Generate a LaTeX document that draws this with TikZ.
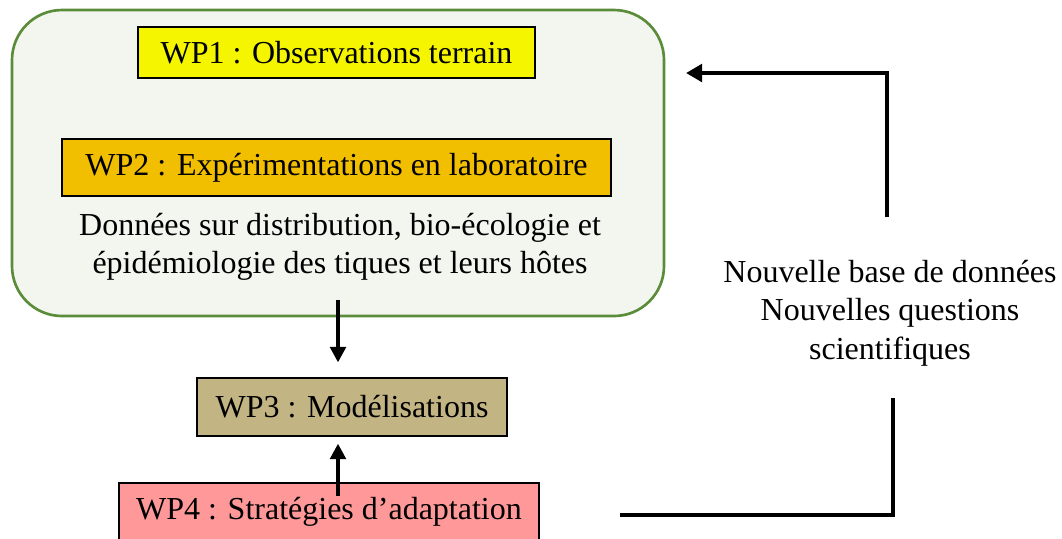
\documentclass[tikz,border=0pt]{standalone}
\usepackage{fontspec}
\setmainfont{Liberation Serif}
\usetikzlibrary{arrows.meta}

\definecolor{wpyellow}{HTML}{F5F500}
\definecolor{wpgold}{HTML}{F2BF00}
\definecolor{wptan}{HTML}{C3B484}
\definecolor{wppink}{HTML}{FF9999}
\definecolor{framegreen}{HTML}{5B8C3A}
\definecolor{framefill}{HTML}{F3F6EF}

\tikzset{
  wpbox/.style={draw=black, line width=0.5pt, inner sep=0pt, align=center,
    font=\fontsize{12}{14.4}\selectfont},
  plain/.style={align=center, inner sep=0pt, font=\fontsize{12}{14.4}\selectfont},
  flow/.style={line width=1.4pt, -{Triangle[length=5.8pt,width=5.8pt]}},
  loopline/.style={line width=1.5pt},
}

\begin{document}
\begin{tikzpicture}[x=0.375pt, y=-0.375pt]
    \useasboundingbox (0,0) rectangle (1062,538);
    \draw[draw=framegreen, fill=framefill, line width=1pt, rounded corners=18.75pt]
      (12,10) rectangle (664,316);
    \coordinate (frame) at (338,300);
    \node[wpbox, fill=wpyellow, minimum width=148.9pt, minimum height=19.1pt] (wp1) at (336.5,52.5) {WP1 : Observations terrain};
    \node[wpbox, fill=wpgold, minimum width=205.9pt, minimum height=21.4pt] (wp2) at (336.5,167.5) {WP2 : Expérimentations en laboratoire};
    \node[plain] (donnees) at (340,247) {Données sur distribution, bio-écologie et\\épidémiologie des tiques et leurs hôtes};
    \node[wpbox, fill=wptan, minimum width=116.25pt, minimum height=21.75pt] (wp3) at (352,407) {WP3 : Modélisations};
    \node[wpbox, fill=wppink, minimum width=157.5pt, minimum height=21.75pt] (wp4) at (329,512) {WP4 : Stratégies d’adaptation};
    \node[plain] (nouvelle) at (890,313) {Nouvelle base de données\\Nouvelles questions\\scientifiques};
    \coordinate (wp4up) at (338,496);
    \coordinate (loopa) at (620,515);
    \coordinate (loopb) at (887,217);
    \coordinate (looptip) at (686,73);
    \draw[flow] (frame) -- ([yshift=5.6pt]wp3.north -| frame);
    \draw[flow] (wp4up) -- ([yshift=-2.6pt]wp3.south -| wp4up);
    \draw[loopline] (loopa) -- (893,515) -- (893,398);
    \draw[loopline, -{Triangle[length=6pt,width=6.5pt]}] (loopb) -- (887,73) -- (looptip);
\end{tikzpicture}
\end{document}
